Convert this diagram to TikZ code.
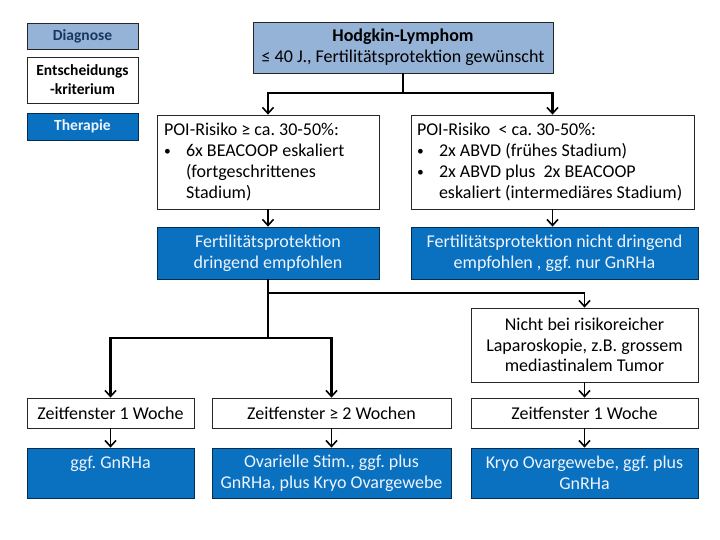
\documentclass[tikz,border=0pt]{standalone}
\usepackage{fontspec}
\setmainfont{Carlito}
\usepackage{xcolor}
\usetikzlibrary{arrows.meta}
\definecolor{diagblue}{HTML}{95B3D7}
\definecolor{therablue}{HTML}{0A70C0}
\definecolor{diagtext}{HTML}{17375E}
\definecolor{theratext}{HTML}{EEF4FB}
\newcommand{\bul}{\makebox[22pt][l]{\raisebox{1pt}{\scalebox{0.75}{\textbullet}}}}
\newcommand{\ein}{\hspace*{22pt}}
\frenchspacing
\tikzset{>={Straight Barb[length=6pt,width=11pt,line width=1.6pt]}}
\tikzset{
    box/.style={draw=black!85, line width=0.8pt, inner sep=0pt, align=center,
        font=\fontsize{18}{20.7}\selectfont},
    diagbox/.style={box, fill=diagblue},
    kritbox/.style={box, fill=white},
    therabox/.style={box, fill=therablue, draw=black!60!therablue, text=theratext},
    legend/.style={font=\fontsize{15.5}{19}\selectfont\bfseries, minimum width=111pt},
    stem/.style={line width=2.2pt},
    conn/.style={line width=1.6pt, ->},
}

\begin{document}
\begin{tikzpicture}[x=1pt, y=-1pt]
    \useasboundingbox (0,0) rectangle (720,540);
    % legend
    \node[diagbox, legend, minimum height=26pt, text=diagtext] (legdiag) at (82.5,36) {Diagnose};
    \node[kritbox, legend, minimum height=46pt] (legkrit) at (82.5,80) {Entscheidungs\\-kriterium};
    \node[therabox, legend, minimum height=27pt] (legthera) at (82.5,126.5) {Therapie};
    % diagnose
    \node[diagbox, minimum width=300pt, minimum height=51pt] (hodgkin) at (403,47.5) {\textbf{Hodgkin-Lymphom}\\≤ 40 J., Fertilitätsprotektion gewünscht};
    % kriterien
    \node[kritbox, align=flush left, text width=208pt, inner xsep=7pt, minimum height=94pt] (poihoch) at (268,162) {POI-Risiko ≥ ca. 30-50\%:\\\bul 6x BEACOOP eskaliert\\\ein(fortgeschrittenes\\\ein Stadium)};
    \node[kritbox, align=flush left, text width=271pt, inner xsep=6pt, minimum height=94pt] (poitief) at (552.5,162) {POI-Risiko~ < ca. 30-50\%:\\\bul 2x ABVD (frühes Stadium)\\\bul 2x ABVD plus~ 2x BEACOOP\\\ein eskaliert (intermediäres Stadium)};
    \node[therabox, minimum width=222pt, minimum height=52pt] (fpdringend) at (268,253) {Fertilitätsprotektion\\dringend empfohlen};
    \node[therabox, minimum width=287pt, minimum height=52pt] (fpnicht) at (554.5,253) {Fertilitätsprotektion nicht dringend\\empfohlen , ggf. nur GnRHa};
    \node[kritbox, minimum width=227pt, minimum height=74pt] (laparo) at (584.5,345) {Nicht bei risikoreicher\\Laparoskopie, z.B. grossem\\mediastinalem Tumor};
    % zeitfenster
    \node[kritbox, minimum width=167pt, minimum height=30pt] (zeit1) at (110.5,413) {Zeitfenster 1 Woche};
    \node[kritbox, minimum width=239pt, minimum height=30pt] (zeit2) at (331.5,413) {Zeitfenster ≥ 2 Wochen};
    \node[kritbox, minimum width=227pt, minimum height=30pt] (zeit3) at (584.5,413) {Zeitfenster 1 Woche};
    % therapien
    \node[therabox, minimum width=167pt, minimum height=50pt] (gnrha) at (110.5,473) {ggf. GnRHa\\\mbox{}};
    \node[therabox, minimum width=239pt, minimum height=50pt] (stim) at (331.5,473) {Ovarielle Stim., ggf. plus\\GnRHa, plus Kryo Ovargewebe};
    \node[therabox, minimum width=227pt, minimum height=50pt] (kryo) at (584.5,473) {Kryo Ovargewebe, ggf. plus\\GnRHa};
    % verbindungen
    \coordinate (split1) at (403,93);
    \coordinate (split2) at (268,293);
    \coordinate (split3) at (268,338);
    \draw[stem] (hodgkin.south) -- (split1);
    \draw[stem, ->] (split1) -| (poihoch.north);
    \draw[stem, ->] (split1) -| (poitief.north);
    \draw[conn] (poihoch.south) -- (fpdringend.north);
    \draw[conn] (poitief.south) -- (poitief.south |- fpnicht.north);
    \draw[stem] (fpdringend.south) -- (split3);
    \draw[conn] (split2) -| (laparo.north);
    \draw[stem, ->] (split3) -| (zeit1.north);
    \draw[stem, ->] (split3) -| (zeit2.north);
    \draw[conn] (laparo.south) -- (zeit3.north);
    \draw[conn] (zeit1.south) -- (gnrha.north);
    \draw[conn] (zeit2.south) -- (stim.north);
    \draw[conn] (zeit3.south) -- (kryo.north);
\end{tikzpicture}
\end{document}
